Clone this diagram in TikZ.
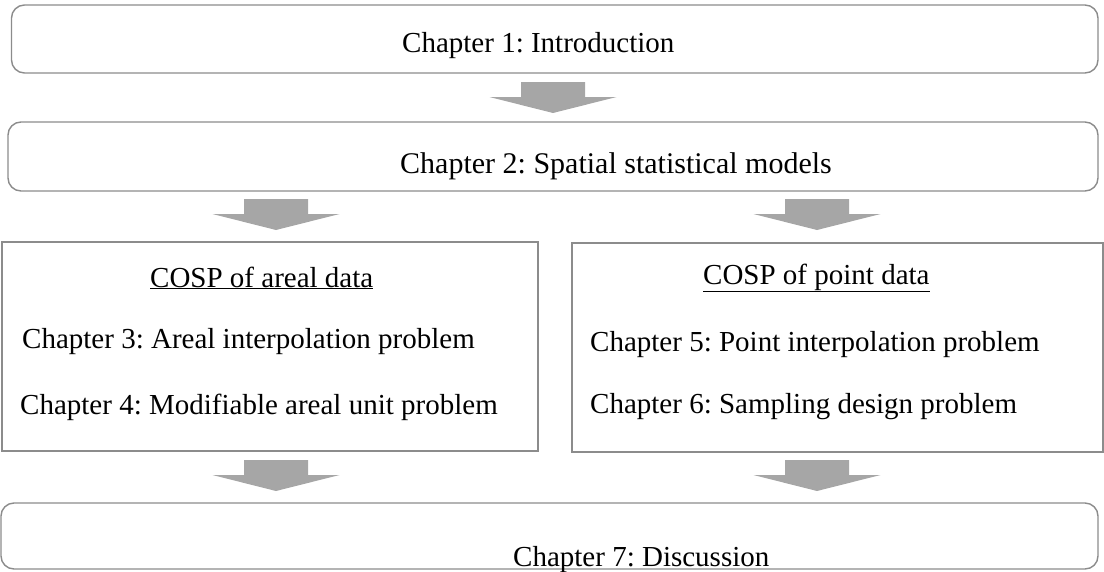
\documentclass[tikz,border=0pt]{standalone}
\usepackage{fontspec}
\setmainfont{Liberation Serif}
\frenchspacing
\definecolor{framegray}{HTML}{8C8C8C}
\definecolor{arrowgray}{HTML}{A6A6A6}
\tikzset{
  chapbox/.style={draw=framegray, line width=1.4pt, rounded corners=13pt, fill=white},
  partbox/.style={draw=framegray, line width=1.4pt, fill=white},
  label/.style={anchor=base west, inner sep=0pt, font=\fontsize{29}{34}\selectfont},
  blockarrow/.pic={
    \fill[arrowgray] (-32,-31) -- (32,-31) -- (32,-16) -- (63.5,-16) -- (0,0)
      -- (-63.5,-16) -- (-32,-16) -- cycle;
  }
}
\begin{document}
\begin{tikzpicture}[x=1pt, y=-1pt]
\useasboundingbox (0,0) rectangle (1104,571);

% chapter frames
\draw[chapbox] (11.5,5) rectangle (1098,73);
\draw[chapbox] (8,122) rectangle (1098,191);
\draw[partbox] (2,242) rectangle (538,451);
\draw[partbox] (572,243) rectangle (1103,452);
\draw[chapbox] (1,503) rectangle (1098,569);

% flow arrows
\pic at (553,113) {blockarrow};
\pic at (276,230) {blockarrow};
\pic at (817,230) {blockarrow};
\pic at (276,491) {blockarrow};
\pic at (817,491) {blockarrow};

% texts
\node[label] (c1) at (402,52) {Chapter 1: Introduction};
\node[label, font=\fontsize{30}{35}\selectfont] (c2) at (400,173) {Chapter 2: Spatial statistical models};
\node[label] (areal) at (150,287) {\underline{COSP of areal data}};
\node[label] (c3) at (22,348) {Chapter 3: Areal interpolation problem};
\node[label] (c4) at (20,414) {Chapter 4: Modifiable areal unit problem};
\node[label] (point) at (703,284) {\underline{COSP of point data}};
\node[label] (c5) at (590,351) {Chapter 5: Point interpolation problem};
\node[label] (c6) at (590,413) {Chapter 6: Sampling design problem};
\node[label] (c7) at (513,566) {Chapter 7: Discussion};
\end{tikzpicture}
\end{document}
